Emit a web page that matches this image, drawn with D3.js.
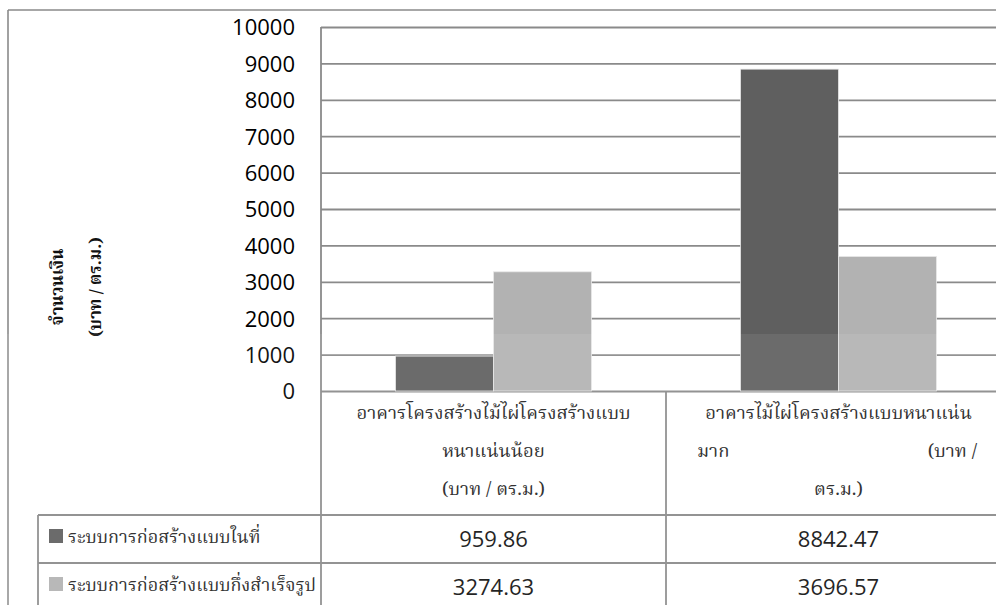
<!DOCTYPE html>
<html><head><meta charset="utf-8">
<script src="https://cdn.jsdelivr.net/npm/d3@7"></script>
<style>
html,body{margin:0;padding:0;background:#fff;}
svg{display:block;}
.num{font-family:"Open Sans","Liberation Sans",sans-serif;}
.thai{font-family:"Noto Serif Thai","Noto Sans Thai Looped",Tahoma,"Noto Sans Thai","Noto Sans","DejaVu Sans",sans-serif;}
</style></head>
<body>
<script>
const categories = ["อาคารโครงสร้างไม้ไผ่โครงสร้างแบบหนาแน่นน้อย (บาท / ตร.ม.)", "อาคารไม้ไผ่โครงสร้างแบบหนาแน่นมาก (บาท / ตร.ม.)"];
const seriesNames = ["ระบบการก่อสร้างแบบในที่", "ระบบการก่อสร้างแบบกึ่งสำเร็จรูป"];
const inSituValues = [959.86, 8842.47];
const precastValues = [3274.63, 3696.57];
const valueLabels = [["959.86", "8842.47"], ["3274.63", "3696.57"]];
const yTicks = [0, 1000, 2000, 3000, 4000, 5000, 6000, 7000, 8000, 9000, 10000];
const yTitle = ["จำนวนเงิน", "(บาท / ตร.ม.)"];
const colors = ["#5f5f5f", "#b2b2b2"];

const W = 996, H = 605;
const svg = d3.select("body").append("svg").attr("width", W).attr("height", H);
const lineCol = "#8a8a8a";

const x0 = d3.scaleBand().domain(categories).range([321, 1011]).paddingInner(0).paddingOuter(0);
const x1 = d3.scaleBand().domain(seriesNames).range([74.5, 270.5]);
const y = d3.scaleLinear().domain([0, 10000]).range([391, 27]);

// outer frame
svg.append("line").attr("x1", 8).attr("x2", W).attr("y1", 10).attr("y2", 10).attr("stroke", lineCol).attr("stroke-width", 1.6);
svg.append("line").attr("x1", 8).attr("x2", 8).attr("y1", 10).attr("y2", H).attr("stroke", lineCol).attr("stroke-width", 1.6);

// gridlines
const grid = svg.append("g").attr("transform", "translate(321,0)")
  .call(d3.axisLeft(y).tickValues(yTicks).tickSize(-700).tickFormat(""));
grid.select(".domain").remove();
grid.selectAll(".tick line").attr("stroke", lineCol).attr("stroke-width", 1.8);

// y labels
const yax = svg.append("g").attr("transform", "translate(321,0)")
  .call(d3.axisLeft(y).tickValues(yTicks).tickSize(0).tickPadding(26).tickFormat(d3.format("d")));
yax.select(".domain").remove();
yax.selectAll("text").attr("class", "num").style("font-size", "22px").attr("fill", "#000").attr("dy", "0.36em");

// bars
const seriesData = [inSituValues, precastValues];
seriesNames.forEach((s, si) => {
  svg.append("g").selectAll("rect").data(categories).join("rect")
    .attr("x", c => x0(c) + x1(s))
    .attr("width", x1.bandwidth())
    .attr("y", (c, ci) => y(seriesData[si][ci]))
    .attr("height", (c, ci) => y(0) - y(seriesData[si][ci]))
    .attr("fill", colors[si])
    .attr("stroke", "#e8e8e8").attr("stroke-width", 0.8);
});

// axis & table lines
const L = (x1_, y1_, x2_, y2_) => svg.append("line").attr("x1", x1_).attr("y1", y1_).attr("x2", x2_).attr("y2", y2_).attr("stroke", lineCol).attr("stroke-width", 1.8);
L(321, 27, 321, H);
L(x0(categories[1]), 391, x0(categories[1]), H);
L(38, 515, W, 515);
L(38, 563, W, 563);
L(38, 515, 38, H);

// category header text
const hdr = svg.append("g").attr("class", "thai").style("font-size", "18.5px").attr("fill", "#222");
const c0 = x0(categories[0]) + x0.bandwidth() / 2;
const c1 = x0(categories[1]) + x0.bandwidth() / 2;
hdr.append("text").attr("x", c0).attr("y", 419).attr("text-anchor", "middle").text("อาคารโครงสร้างไม้ไผ่โครงสร้างแบบ");
hdr.append("text").attr("x", c0).attr("y", 457).attr("text-anchor", "middle").text("หนาแน่นน้อย");
hdr.append("text").attr("x", c0).attr("y", 495).attr("text-anchor", "middle").text("(บาท / ตร.ม.)");
hdr.append("text").attr("x", c1).attr("y", 419).attr("text-anchor", "middle").text("อาคารไม้ไผ่โครงสร้างแบบหนาแน่น");
hdr.append("text").attr("x", 697).attr("y", 457).attr("text-anchor", "start").text("มาก");
hdr.append("text").attr("x", 977).attr("y", 457).attr("text-anchor", "end").text("(บาท /");
hdr.append("text").attr("x", c1).attr("y", 495).attr("text-anchor", "middle").text("ตร.ม.)");

// table rows
const rowY = [539, 587];
seriesNames.forEach((s, si) => {
  svg.append("rect").attr("x", 49).attr("y", rowY[si] - 10).attr("width", 14).attr("height", 14).attr("fill", colors[si]);
  svg.append("text").attr("class", "thai").attr("x", 68).attr("y", rowY[si] + 4).style("font-size", "18px").attr("fill", "#222").text(s);
  categories.forEach((c, ci) => {
    svg.append("text").attr("class", "num").attr("x", x0(c) + x0.bandwidth() / 2).attr("y", rowY[si] + 8)
      .attr("text-anchor", "middle").style("font-size", "22px").attr("fill", "#111").text(valueLabels[si][ci]);
  });
});

// y title
const yt = svg.append("g").attr("class", "thai").style("font-size", "17px").style("font-weight", "bold").attr("fill", "#111");
yt.append("text").attr("transform", "translate(63,287) rotate(-90)").attr("text-anchor", "middle").text(yTitle[0]);
yt.append("text").attr("transform", "translate(101,287) rotate(-90)").attr("text-anchor", "middle").text(yTitle[1]);

// faint watermark overlay on the lower part of the page
svg.append("rect").attr("x", 0).attr("y", 334).attr("width", W).attr("height", H - 334).attr("fill", "#fff").attr("opacity", 0.08);
</script>
</body></html>
